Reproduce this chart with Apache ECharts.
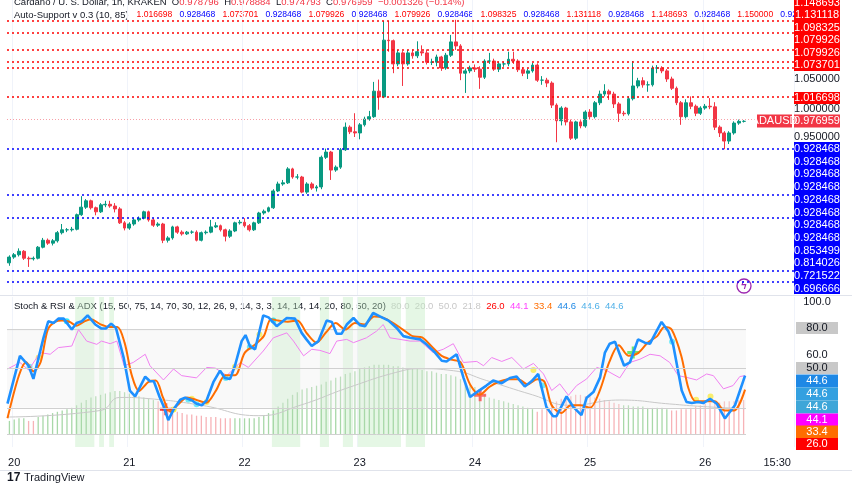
<!DOCTYPE html>
<html><head><meta charset="utf-8">
<script src="https://cdn.jsdelivr.net/npm/echarts@6/dist/echarts.min.js"></script>
<style>html,body{margin:0;padding:0;background:#fff}#c{width:852px;height:485px}</style>
</head><body><div id="c"></div>
<script>
// candles: [open, close, low, high], hourly from 19 Nov 23:00
const candles = [
[0.733,0.743,0.728,0.746],[0.743,0.747,0.740,0.750],[0.747,0.753,0.744,0.758],[0.753,0.741,0.738,0.755],[0.741,0.740,0.726,0.744],
[0.740,0.741,0.737,0.744],[0.741,0.760,0.739,0.762],[0.760,0.772,0.758,0.776],[0.772,0.767,0.764,0.775],[0.767,0.771,0.763,0.774],
[0.771,0.785,0.768,0.788],[0.785,0.790,0.782,0.800],[0.790,0.790,0.786,0.793],[0.790,0.791,0.787,0.795],[0.791,0.816,0.789,0.818],
[0.816,0.829,0.814,0.848],[0.829,0.840,0.826,0.843],[0.840,0.828,0.825,0.842],[0.828,0.821,0.815,0.830],[0.821,0.833,0.819,0.836],
[0.833,0.834,0.829,0.840],[0.834,0.831,0.828,0.840],[0.831,0.826,0.820,0.836],[0.826,0.802,0.800,0.829],[0.802,0.793,0.789,0.805],
[0.793,0.800,0.790,0.803],[0.800,0.807,0.797,0.810],[0.807,0.810,0.804,0.813],[0.810,0.821,0.808,0.823],[0.821,0.807,0.804,0.823],
[0.807,0.798,0.795,0.810],[0.798,0.800,0.795,0.803],[0.800,0.772,0.767,0.802],[0.772,0.776,0.768,0.779],[0.776,0.795,0.773,0.797],
[0.795,0.786,0.783,0.797],[0.786,0.783,0.780,0.789],[0.783,0.786,0.781,0.788],[0.786,0.786,0.783,0.789],[0.786,0.772,0.770,0.789],
[0.772,0.785,0.770,0.787],[0.785,0.786,0.782,0.789],[0.786,0.795,0.784,0.807],[0.795,0.797,0.793,0.803],[0.797,0.790,0.787,0.799],
[0.790,0.779,0.770,0.792],[0.779,0.788,0.776,0.791],[0.788,0.802,0.786,0.804],[0.802,0.803,0.799,0.807],[0.803,0.797,0.794,0.810],
[0.797,0.790,0.787,0.800],[0.790,0.802,0.788,0.804],[0.802,0.819,0.800,0.821],[0.819,0.822,0.816,0.825],[0.822,0.828,0.820,0.830],
[0.828,0.857,0.826,0.860],[0.857,0.869,0.855,0.873],[0.869,0.871,0.866,0.876],[0.871,0.895,0.869,0.898],[0.895,0.881,0.878,0.897],
[0.881,0.881,0.877,0.886],[0.881,0.855,0.853,0.883],[0.855,0.869,0.852,0.872],[0.869,0.862,0.859,0.872],[0.862,0.864,0.856,0.867],
[0.864,0.915,0.860,0.918],[0.915,0.924,0.912,0.930],[0.924,0.893,0.876,0.926],[0.893,0.898,0.890,0.901],[0.898,0.928,0.895,0.931],
[0.928,0.967,0.926,0.975],[0.967,0.959,0.955,0.970],[0.959,0.957,0.950,0.991],[0.957,0.971,0.946,0.974],[0.971,0.981,0.968,0.985],
[0.981,0.985,0.978,0.995],[0.985,1.029,0.983,1.045],[1.029,1.019,0.997,1.049],[1.019,1.117,1.017,1.150],[1.117,1.116,1.097,1.150],
[1.116,1.076,1.060,1.118],[1.076,1.095,1.072,1.100],[1.095,1.076,1.038,1.098],[1.076,1.095,1.073,1.100],[1.095,1.090,1.085,1.101],
[1.090,1.097,1.086,1.115],[1.097,1.095,1.090,1.108],[1.095,1.079,1.075,1.101],[1.079,1.079,1.074,1.085],[1.079,1.088,1.072,1.092],
[1.088,1.069,1.064,1.090],[1.069,1.091,1.066,1.095],[1.091,1.114,1.088,1.126],[1.114,1.107,1.100,1.152],[1.107,1.060,1.048,1.110],
[1.060,1.064,1.026,1.068],[1.064,1.069,1.060,1.073],[1.069,1.067,1.062,1.075],[1.067,1.053,1.033,1.072],[1.053,1.081,1.050,1.084],
[1.081,1.081,1.076,1.095],[1.081,1.067,1.064,1.085],[1.067,1.076,1.062,1.080],[1.076,1.076,1.071,1.080],[1.076,1.084,1.072,1.097],
[1.084,1.081,1.076,1.097],[1.081,1.066,1.062,1.084],[1.066,1.060,1.055,1.070],[1.060,1.064,1.050,1.068],[1.064,1.074,1.061,1.078],
[1.074,1.048,1.045,1.077],[1.048,1.048,1.040,1.055],[1.048,1.043,1.036,1.052],[1.043,1.005,1.000,1.046],[1.005,0.978,0.941,1.008],
[0.978,1.000,0.970,1.003],[1.000,0.976,0.970,1.002],[0.976,0.948,0.945,0.980],[0.948,0.976,0.945,0.978],[0.976,0.969,0.965,0.979],
[0.969,0.993,0.966,0.996],[0.993,0.985,0.980,0.998],[0.985,1.009,0.982,1.012],[1.009,1.024,1.005,1.030],[1.024,1.029,1.020,1.041],
[1.029,1.024,1.014,1.032],[1.024,1.007,1.000,1.028],[1.007,0.991,0.976,1.010],[0.991,0.990,0.986,0.995],[0.990,1.016,0.987,1.020],
[1.016,1.038,1.013,1.081],[1.038,1.047,1.034,1.052],[1.047,1.040,1.035,1.053],[1.040,1.040,1.028,1.046],[1.040,1.069,1.037,1.073],
[1.069,1.069,1.060,1.074],[1.069,1.064,1.060,1.072],[1.064,1.050,1.045,1.067],[1.050,1.034,1.031,1.054],[1.034,1.009,1.005,1.037],
[1.009,0.985,0.971,1.012],[0.985,1.009,0.982,1.015],[1.009,1.003,0.998,1.020],[1.003,0.991,0.986,1.006],[0.991,1.000,0.988,1.003],
[1.000,1.003,0.997,1.007],[1.003,1.002,0.998,1.017],[1.002,0.967,0.962,1.010],[0.967,0.957,0.950,0.970],[0.957,0.943,0.929,0.960],
[0.943,0.957,0.938,0.960],[0.957,0.974,0.954,0.977],[0.974,0.977,0.971,0.980],[0.977,0.977,0.975,0.979]
];
const resistance = [1.150000,1.131118,1.098325,1.079926,1.073701,1.016698];
const support = [0.928468,0.853499,0.814026,0.721522,0.696666];
const lastPrice = 0.976959;
const dayTicks = {1:'20',25:'21',49:'22',73:'23',97:'24',121:'25',145:'26',160:'15:30'};
const totalSlots = 164;
// oscillator pane: [hour index, value]
const stochK = [[-0.4,23.2],[2.2,59.9],[4,52.3],[5,42.2],[7.1,73.7],[8.1,86.4],[9.2,85.1],[10.2,88.4],[11.3,88.4],[13,80.1],[14,85.1],[15.1,86.4],[16.3,90.9],[17.9,83.9],[19.2,80.8],[20.1,80.8],[21.2,84.6],[22.2,81.3],[23.8,58.6],[25.1,33.3],[26.2,28.8],[27.2,35.9],[28.3,43.9],[29.3,40.4],[30.1,40.4],[31.3,28.3],[32.2,20.7],[33.1,10.6],[34.2,18.7],[35.6,26.3],[36.6,27.8],[38,25.8],[39,23.2],[40.1,22],[41.1,25.8],[42.5,39.7],[43.9,48.5],[44.9,42.9],[46,42.2],[47,52.3],[48.4,71.2],[49.2,75.8],[50.1,67.4],[51.2,64.9],[52.9,90.9],[54,89.4],[55.7,82.6],[57.8,88.9],[59.5,88.4],[60.9,77.5],[61.9,72.5],[63,67.4],[64.4,71.2],[66.1,86.9],[67.2,85.9],[68.2,76.8],[69.2,76.8],[70.3,83.9],[71.7,88.9],[73.1,83.3],[74.1,82.6],[75.8,92.7],[77.2,90.2],[79,86.9],[80.7,81.3],[82.1,75],[83.5,73.7],[85.6,72.5],[86.9,68.7],[88.7,62.4],[90.1,56.1],[91.1,55.6],[93.2,61.1],[94.6,43.4],[96,28.3],[97.4,32.1],[99.4,37.1],[100.8,40.9],[102.6,38.9],[104.3,42.9],[105.7,44],[107.4,36.4],[108.8,40.4],[110.2,46],[111.9,20.7],[113.3,13.6],[114,13.6],[116.1,28.8],[117.5,20.7],[119.2,14.4],[120.3,27.8],[121.7,32.1],[123.1,43.4],[124.1,62.4],[125.1,69.2],[126.2,70.7],[128.1,52.3],[129.3,54.8],[131,72.5],[132.4,70],[133.5,69.2],[134.5,76.3],[135.9,85.9],[137.3,78.8],[138.3,68.7],[140.1,33.3],[141.1,24.5],[142.2,23.7],[143.5,24.5],[144.6,23.7],[146,27],[147.4,23.2],[149.1,11.9],[151.2,22],[153.3,44.7]];
const stochD = [[-0.4,12],[2,45],[3.5,55],[5,48],[6.5,55],[8,80],[9.5,86],[11,87],[12.5,86],[14,83],[15.5,86],[17,88],[19,84],[21,82],[22.5,82],[24,70],[25.5,45],[27,33],[29,40],[30.5,41],[32,28],[33.5,17],[35,22],[37,28],[39,26],[41,24],[43,33],[45,45],[47,45],[49,62],[51,68],[53,75],[54.5,88],[56,87],[58,86],[60,87],[62,77],[64,70],[66,78],[68,85],[70,80],[72,85],[74,84],[76,90],[78,89],[80,85],[82,80],[84,75],[86,74],[88,67],[90,60],[92,57],[94,55],[96,38],[98,30],[100,36],[102,40],[104,42],[106,42],[108,38],[110,42],[111.5,40],[113,22],[115,16],[117,22],[119,22],[121,20],[123,33],[125,55],[127,68],[129,60],[131,62],[133,70],[135,75],[136.5,82],[138,80],[140,60],[141.5,35],[143,25],[145,25],[147,25],[149,18],[151,18],[153.3,34]];
const rsi = [[-0.4,49.8],[2.2,54.8],[4,49],[6.4,62.4],[8.5,61.1],[10.2,66.2],[13,67.4],[14.4,80],[16.1,71.2],[18.2,68.7],[19.2,71.2],[21,69.2],[22.4,71.2],[23.9,52.3],[25.8,54.8],[28.3,61.1],[29.3,52.3],[32.1,41.4],[34.2,49.8],[35.9,44.7],[39,43],[41.1,51],[42.9,50.5],[45.3,44.7],[48.1,54.8],[49.8,51],[52.9,63.6],[55,73.7],[57.8,77.5],[59.2,71.2],[61.3,59.9],[63,64.9],[64.7,64.1],[66.8,61.6],[68.2,71.2],[70.3,72.5],[71.7,70],[74.4,73.7],[76.5,78.8],[77.9,83.9],[79.3,73.7],[81.4,72.5],[83.5,71.2],[85.6,71.2],[88.3,62.4],[90.4,64.9],[92.5,69.2],[94.6,54.8],[97.4,55.6],[98.8,52.3],[100.5,58.6],[102.6,55.6],[104.7,58.6],[107.1,49.8],[109.2,54.1],[111.3,46],[113,33.3],[114.7,38.4],[116.5,29.6],[118.2,37.1],[120.3,42.2],[122.4,51],[124.5,48.5],[127.2,43],[129.3,54.8],[131.4,57.3],[133.5,61.1],[135.6,59.9],[137.6,54.8],[139.4,44.7],[141.1,43.4],[143.2,41.4],[145.3,46],[146.7,44.7],[148.8,34.6],[150.8,37.1],[152.2,44],[153.3,44.7]];
const adxSignal = [[-0.4,13],[19,18],[23,28],[29.3,27],[40,22],[52,14],[60.6,22],[71,36],[81.4,48],[85.6,50],[92.5,48.5],[99.4,41],[109,30],[116.8,22],[127.2,26],[137.6,23],[144.6,21],[153.3,19.4]];
// histogram per candle: positive = green, negative = red
const hist = [10,11,12,12,-10,-10,13,14,15,16,17,18,19,20,22,24,26,28,29,30,31,32,33,33,32,31,30,29,28,27,26,-25,-23,-20,-18,-17,-16,-15,-15,-14,-14,-13,-13,-13,-12,-12,-12,12,12,12,12,12,13,14,16,18,21,24,27,30,32,34,35,36,37,38,40,41,43,44,46,47,48,50,51,52,53,53,53,53,52,52,51,50,50,50,49,48,48,47,46,46,45,44,42,40,38,36,33,30,28,27,26,25,24,23,22,21,20,19,-17,-19,-21,-23,-25,-27,-28,-29,-30,-30,-29,-29,-28,-27,-26,-25,-24,-23,22,22,21,21,21,20,20,20,20,19,-18,-18,-19,-19,-20,-21,-22,-23,-24,-24,-24,-25,-25,-25,-26,-26];
const greenZones = [[13.7,17.7],[18.7,19.7],[20.8,21.8],[54.7,60.6],[64.7,66.6],[69.5,71.6],[72.6,81.6],[82.6,86.6]];
const yellowDots = [[6.1,58.6],[34.2,18.7],[38,27],[41.1,24.5],[47,51.5],[52.1,76.3],[109.2,49],[143.1,26.3],[146.1,28.8]];
const cyanDots = [[4.2,51.5],[11.95,86.4],[37.3,26.3],[39,22.7],[45.1,42.9],[50.1,66.7],[55,86.9],[111.1,37.1],[138.1,70.7]];
const redCross = [[32.6,19],[98.1,29.6]];
const greenCross = [[130,62.4]];
const supportHeader = ['1.016698','0.928468','1.073701','0.928468','1.079926','0.928468','1.079926','0.928468','1.098325','0.928468','1.131118','0.928468','1.148693','0.928468','1.150000','0.928468...'];

const cats = []; for (let i=0;i<totalSlots;i++) cats.push(dayTicks[i]||'');
const UP='#089981', DN='#f23645';
const chart = echarts.init(document.getElementById('c'));
const F = '"Liberation Sans", Arial, sans-serif';
const rLine = resistance.map(v=>({yAxis:v,lineStyle:{color:'#ff0000',type:[2,3],width:1.5}}));
const sLine = support.map(v=>({yAxis:v,lineStyle:{color:'#0000ff',type:[2,3],width:1.5}}));
const cross = 'path://M3,0H5V3H8V5H5V8H3V5H0V3H3Z';

const g = [];
function box(y,h,txt,bg,fg,x,w){ g.push({type:'rect',z:10,shape:{x:x||794,y:y-h/2,width:w||46,height:h},style:{fill:bg}});
  g.push({type:'text',z:11,style:{x:(x||794)+(w||46)/2,y:y,text:txt,fill:fg,font:'11px '+F,textAlign:'center',textVerticalAlign:'middle'}}); }
function txt(y,t,c){ g.push({type:'text',z:11,style:{x:817,y:y,text:t,fill:c||'#131722',font:'11px '+F,textAlign:'center',textVerticalAlign:'middle'}}); }
const redLabels=['1.148693','1.131118','1.098325','1.079926','1.079926','1.073701'];
g.push({type:'rect',z:10,shape:{x:794,y:0,width:46,height:71},style:{fill:'#ff0000'}});
redLabels.forEach((t,i)=>txt(3+i*12.4,t,'#fff'));
txt(79,'1.050000');
box(98,12,'1.016698','#ff0000','#fff');
txt(109,'1.000000');
box(121,13,'0.976959','#f23645','#fff');
box(121,13,'ADAUSD','#f23645','#fff',757,35);
txt(137,'0.950000');
const blueLabels=['0.928468','0.928468','0.928468','0.928468','0.928468','0.928468','0.928468','0.928468','0.853499','0.814026','0.721522','0.696666'];
g.push({type:'rect',z:10,shape:{x:794,y:142,width:46,height:152},style:{fill:'#0000ff'}});
blueLabels.forEach((t,i)=>txt(149+i*12.7,t,'#fff'));
txt(302,'100.0');
box(328,12,'80.0','#c8c8c8','#131722',796,42);
txt(355,'60.0');
box(368,12,'50.0','#c8c8c8','#131722',796,42);
box(381,13,'44.6','#1e88e5','#fff',796,42);
box(394,13,'44.6','#33a0e0','#fff',796,42);
box(407,13,'44.6','#3ea6d8','#fff',796,42);
box(420,13,'44.1','#ff00ff','#fff',796,42);
box(432,13,'33.4','#ff6d00','#fff',796,42);
box(444,12,'26.0','#ff0000','#fff',796,42);
const HF='9.5px '+F, VF='8.6px '+F;
g.push({type:'text',style:{x:14,y:2,textVerticalAlign:'middle',font:HF,rich:{a:{fill:'#131722',font:HF},r:{fill:'#f23645',font:HF}},
 text:'{a|Cardano / U. S. Dollar, 1h, KRAKEN  O}{r|0.978796}{a|  H}{r|0.978884}{a|  L}{r|0.974793}{a|  C}{r|0.976959}{r|  −0.001326 (−0.14%)}'}});
g.push({type:'text',style:{x:14,y:15,textVerticalAlign:'middle',font:HF,rich:{a:{fill:'#131722',font:HF},r:{fill:'#ff0000',font:VF},b:{fill:'#0000ff',font:VF}},
 text:'{a|Auto-Support v 0.3 (10, 85)   }'+supportHeader.map((v,i)=>'{'+(i%2?'b':'r')+'|'+v+'   }').join('')}});
g.push({type:'text',style:{x:14,y:306,textVerticalAlign:'middle',font:HF,rich:{a:{fill:'#131722',font:HF},l:{fill:'#c8c8c8',font:HF},r:{fill:'#ff0000',font:HF},m:{fill:'#ff40ff',font:HF},o:{fill:'#ff6d00',font:HF},b:{fill:'#1e88e5',font:HF},c:{fill:'#4fb0e8',font:HF}},
 text:'{a|Stoch & RSI & ADX (15, 50, 75, 14, 70, 30, 12, 26, 9, 14, 3, 3, 14, 14, 14, 20, 80, 50, 20)  }{l|80.0  20.0  50.0  21.8  }{r|26.0  }{m|44.1  }{o|33.4  }{b|44.6  }{c|44.6  44.6}'}});
g.push({type:'line',shape:{x1:0,y1:295.5,x2:852,y2:295.5},style:{stroke:'#e0e3eb',lineWidth:1}});
g.push({type:'line',shape:{x1:0,y1:470.5,x2:852,y2:470.5},style:{stroke:'#e0e3eb',lineWidth:1}});
g.push({type:'circle',shape:{cx:744,cy:286,r:7},style:{fill:'#fff',stroke:'#9c27b0',lineWidth:1.3}});
g.push({type:'text',style:{x:744,y:286,text:'ϟ',fill:'#9c27b0',font:'bold 10px '+F,textAlign:'center',textVerticalAlign:'middle'}});
g.push({type:'text',style:{x:7,y:478,text:'17',fill:'#131722',font:'bold 12px '+F,textVerticalAlign:'middle'}});
g.push({type:'text',style:{x:24,y:478,text:'TradingView',fill:'#131722',font:'11px '+F,textVerticalAlign:'middle'}});

chart.setOption({
 animation:false,
 grid:[{left:7,right:58,top:0,height:295},{left:7,right:58,top:297,height:150}],
 xAxis:[
  {type:'category',data:cats,gridIndex:0,boundaryGap:true,axisLine:{show:false},axisTick:{show:false},axisLabel:{show:false},
   splitLine:{show:true,interval:(i)=>!!dayTicks[i]&&i!==160,lineStyle:{color:'#f0f3fa'}}},
  {type:'category',data:cats,gridIndex:1,boundaryGap:true,axisLine:{show:false},axisTick:{show:false},
   axisLabel:{interval:(i)=>!!dayTicks[i],color:'#131722',fontSize:11,fontFamily:F,margin:10},
   splitLine:{show:true,interval:(i)=>!!dayTicks[i]&&i!==160,lineStyle:{color:'#f0f3fa'}}},
  {type:'value',gridIndex:1,min:-0.5,max:totalSlots-0.5,show:false}
 ],
 yAxis:[
  {type:'value',gridIndex:0,min:0.6776,max:1.1862,position:'right',axisLabel:{show:false},axisTick:{show:false},axisLine:{show:false},splitLine:{show:false}},
  {type:'value',gridIndex:1,min:-10,max:105,position:'right',axisLabel:{show:false},axisTick:{show:false},axisLine:{show:false},splitLine:{show:false}}
 ],
 graphic:g,
 series:[
  {type:'candlestick',xAxisIndex:0,yAxisIndex:0,data:candles,barWidth:'70%',
   itemStyle:{color:UP,color0:DN,borderColor:UP,borderColor0:DN},
   markLine:{symbol:'none',silent:true,label:{show:false},data:[...rLine,...sLine,{yAxis:lastPrice,lineStyle:{color:'#f7a0a8',type:[1,2],width:1}}]}},
  {type:'bar',xAxisIndex:1,yAxisIndex:1,barWidth:1.3,data:hist.map(v=>({value:Math.abs(v),itemStyle:{color:v>=0?'#a8d8a8':'#f7b3b7'}}))},
  {type:'line',xAxisIndex:2,yAxisIndex:1,data:[[-0.5,80],[153.5,80]],symbol:'none',lineStyle:{color:'#cfcfcf',width:1},
   areaStyle:{color:'rgba(235,235,235,0.45)',origin:20},silent:true,
   markArea:{silent:true,itemStyle:{color:'rgba(190,235,190,0.4)'},data:greenZones.map(z=>[{xAxis:z[0]},{xAxis:z[1]}])},
   markLine:{symbol:'none',silent:true,label:{show:false},lineStyle:{color:'#d0d0d0',type:'solid',width:1},data:[[{coord:[-0.5,50]},{coord:[153.5,50]}],[{coord:[-0.5,20]},{coord:[153.5,20]}],[{coord:[-0.5,0]},{coord:[153.5,0]}]]}},
  {type:'line',xAxisIndex:2,yAxisIndex:1,data:adxSignal,smooth:true,symbol:'none',lineStyle:{color:'#c8c8c8',width:1}},
  {type:'line',xAxisIndex:2,yAxisIndex:1,data:rsi,symbol:'none',lineStyle:{color:'#f080f0',width:1}},
  {type:'line',xAxisIndex:2,yAxisIndex:1,data:stochD,symbol:'none',smooth:0.3,lineStyle:{color:'#ff6d00',width:2}},
  {type:'line',xAxisIndex:2,yAxisIndex:1,data:stochK,symbol:'none',lineStyle:{color:'#1e90ff',width:2.6}},
  {type:'scatter',xAxisIndex:2,yAxisIndex:1,data:yellowDots,symbolSize:6,itemStyle:{color:'#ffeb00'}},
  {type:'scatter',xAxisIndex:2,yAxisIndex:1,data:cyanDots,symbolSize:6,itemStyle:{color:'#00e5ff'}},
  {type:'scatter',xAxisIndex:2,yAxisIndex:1,data:redCross,symbol:cross,symbolSize:12,itemStyle:{color:'#ff0000'}},
  {type:'scatter',xAxisIndex:2,yAxisIndex:1,data:greenCross,symbol:cross,symbolSize:12,itemStyle:{color:'#00e000'}}
 ]
});
</script></body></html>
